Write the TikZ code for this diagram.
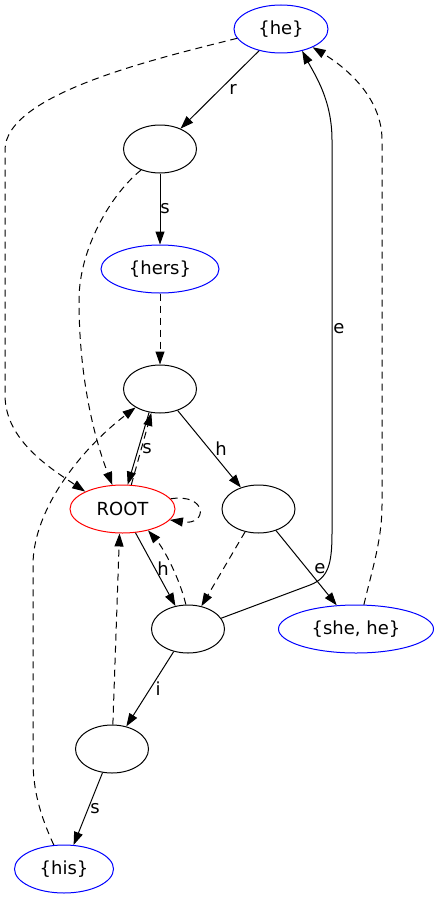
\documentclass[tikz,border=0pt]{standalone}
\usepackage{fontspec}
\setmainfont{DejaVu Sans}
\usetikzlibrary{arrows.meta,shapes.geometric}
\begin{document}
\begin{tikzpicture}[x=1pt,y=-1pt,
  every node/.style={font=\fontsize{18}{21}\selectfont},
  st/.style={ellipse,draw,line width=1pt,inner sep=0pt,minimum height=48pt},
  em/.style={st,minimum width=73pt},
  blu/.style={st,draw=blue},
  lab/.style={inner sep=0pt},
  sol/.style={draw,line width=1pt,-{Triangle[length=13pt,width=9pt]}},
  dsh/.style={sol,dash pattern=on 7pt off 5pt}]
\useasboundingbox (0,0) rectangle (439,899);
\node[blu,minimum width=94pt] (he) at (281,29) {\{he\}};
\node[em] (n1) at (160,149) {};
\node[blu,minimum width=118pt] (hers) at (160,269) {\{hers\}};
\node[em] (n2) at (160,389) {};
\node[st,draw=red,minimum width=105pt] (root) at (122.5,509) {ROOT};
\node[em] (n3) at (258.5,509) {};
\node[em] (n4) at (188,629) {};
\node[blu,minimum width=155pt] (sh) at (356,629) {\{she, he\}};
\node[em] (n5) at (112,749) {};
\node[blu,minimum width=99pt] (his) at (64,869) {\{his\}};

\draw[sol] (he) -- (n1) node[lab] at (233,89) {r};
\draw[sol] (n1) -- (hers) node[lab] at (165,209) {s};
\draw[dsh] (hers) -- (n2);
\draw[sol] (n2) -- (n3) node[lab] at (221,449) {h};
\draw[sol] (n2.245) -- (root.78) node[lab] at (147,449) {s};
\draw[dsh] (root.70) -- (n2.250);
\draw[dsh] (root.12) .. controls (208,493) and (208,526) .. (root.-13);
\draw[dsh] (n3) -- (n4);
\draw[sol] (n3) -- (sh) node[lab] at (320,569) {e};
\draw[sol] (root) -- (n4) node[lab] at (163,569) {h};
\draw[dsh] (n4.95) .. controls (180,580) and (165,550) .. (root.-40);
\draw[sol] (n4.18) -- (310,585) .. controls (328,578) and (332,565) .. (332,533) -- (332,140) .. controls (332,100) and (315,75) .. (he.-46) node[lab] at (339,329) {e};
\draw[dsh] (sh.72) .. controls (372,570) and (382,540) .. (382,505) -- (382,140) .. controls (382,100) and (350,70) .. (he.-30);
\draw[dsh] (he.192) .. controls (150,60) and (5,95) .. (5,150) -- (5,395) .. controls (5,440) and (50,468) .. (root.155);
\draw[dsh] (n1.228) .. controls (110,195) and (79,250) .. (79,300) .. controls (79,380) and (95,440) .. (root.113);
\draw[sol] (n4) -- (n5) node[lab] at (158,689) {i};
\draw[dsh] (n5.88) -- (root.263);
\draw[sol] (n5) -- (his) node[lab] at (95,809) {s};
\draw[dsh] (his.113) .. controls (40,815) and (33,790) .. (33,760) -- (33,565) .. controls (33,510) and (80,450) .. (n2.217);
\end{tikzpicture}
\end{document}
